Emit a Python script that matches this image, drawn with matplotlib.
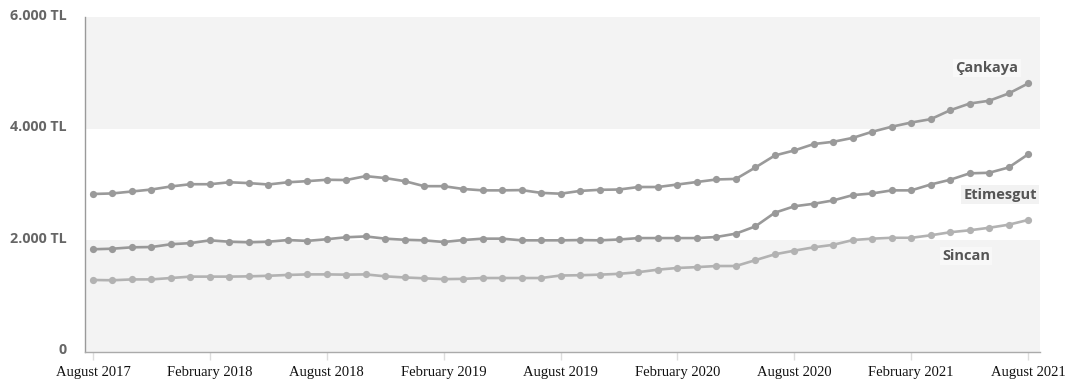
import matplotlib
matplotlib.use("Agg")
import matplotlib.pyplot as plt
from matplotlib.transforms import ScaledTranslation

# Monthly average rent (TL), August 2017 - August 2021
months = [
    "Aug 2017", "Sep 2017", "Oct 2017", "Nov 2017", "Dec 2017", "Jan 2018",
    "Feb 2018", "Mar 2018", "Apr 2018", "May 2018", "Jun 2018", "Jul 2018",
    "Aug 2018", "Sep 2018", "Oct 2018", "Nov 2018", "Dec 2018", "Jan 2019",
    "Feb 2019", "Mar 2019", "Apr 2019", "May 2019", "Jun 2019", "Jul 2019",
    "Aug 2019", "Sep 2019", "Oct 2019", "Nov 2019", "Dec 2019", "Jan 2020",
    "Feb 2020", "Mar 2020", "Apr 2020", "May 2020", "Jun 2020", "Jul 2020",
    "Aug 2020", "Sep 2020", "Oct 2020", "Nov 2020", "Dec 2020", "Jan 2021",
    "Feb 2021", "Mar 2021", "Apr 2021", "May 2021", "Jun 2021", "Jul 2021",
    "Aug 2021",
]

cankaya = [
    2830, 2840, 2875, 2910, 2965, 3005, 3005, 3040, 3025, 3000, 3040, 3060,
    3085, 3080, 3150, 3115, 3060, 2970, 2970, 2920, 2895, 2895, 2900, 2850,
    2835, 2885, 2905, 2910, 2955, 2955, 3000, 3045, 3090, 3100, 3305, 3520,
    3610, 3725, 3765, 3835, 3945, 4035, 4110, 4170, 4330, 4450, 4500, 4630,
    4810,
]

etimesgut = [
    1840, 1850, 1875, 1880, 1930, 1950, 2000, 1975, 1965, 1975, 2005, 1990,
    2020, 2055, 2070, 2030, 2010, 2000, 1970, 2005, 2030, 2030, 2000, 2000,
    2000, 2005, 2000, 2015, 2040, 2040, 2040, 2040, 2060, 2120, 2250, 2495,
    2610, 2655, 2715, 2810, 2840, 2895, 2895, 3000, 3085, 3200, 3210, 3305,
    3540,
]

sincan = [
    1290, 1285, 1300, 1300, 1325, 1350, 1350, 1350, 1355, 1365, 1380, 1390,
    1390, 1385, 1390, 1355, 1335, 1320, 1305, 1310, 1325, 1325, 1325, 1325,
    1370, 1375, 1385, 1400, 1430, 1475, 1505, 1520, 1540, 1540, 1645, 1750,
    1815, 1875, 1920, 2005, 2030, 2045, 2045, 2090, 2145, 2180, 2225, 2280,
    2365,
]

series_names = ["Çankaya", "Etimesgut", "Sincan"]
y_ticks = [0, 2000, 4000, 6000]
y_tick_labels = ["0", "2.000 TL", "4.000 TL", "6.000 TL"]
x_tick_labels = [
    "August 2017", "February 2018", "August 2018", "February 2019",
    "August 2019", "February 2020", "August 2020", "February 2021",
    "August 2021",
]

x = list(range(len(months)))

fig = plt.figure(figsize=(10.68, 3.85), dpi=100)
ax = fig.add_axes([85 / 1068, 33 / 385, (1040 - 85) / 1068, (368 - 33) / 385])

ax.set_xlim(-0.41, 48.61)
ax.set_ylim(0, 6000)

# Alternating horizontal bands
band_color = "#f3f3f3"
ax.axhspan(0, 2000, color=band_color, zorder=0, lw=0)
ax.axhspan(4000, 6000, color=band_color, zorder=0, lw=0)

line_styles = [
    (cankaya, "#9a9a9a"),
    (etimesgut, "#999999"),
    (sincan, "#b2b2b2"),
]
for values, color in line_styles:
    ax.plot(x, values, color=color, lw=1.9, marker="o", markersize=5.2,
            markeredgewidth=0, zorder=3, solid_capstyle="round")

# Series name labels at the right end
label_font = dict(family="Open Sans", weight="bold", size=10.5, color="#555555")
label_y = [5085, 2820, 1725]
label_x = [47.5, 48.45, 46.05]
label_bg = ["#f8f8f8", "#f2f2f2", "#f8f8f8"]
for name, yv, xv, bg in zip(series_names, label_y, label_x, label_bg):
    ax.text(xv, yv, name, ha="right", va="center", zorder=4,
            bbox=dict(boxstyle="square,pad=0.15", fc=bg, ec="none"),
            **label_font)

# Axes styling
for side in ("top", "right"):
    ax.spines[side].set_visible(False)
ax.spines["left"].set_color("#9a9a9a")
ax.spines["left"].set_linewidth(1.0)
ax.spines["bottom"].set_color("#aaaaaa")
ax.spines["bottom"].set_linewidth(1.0)

ax.set_yticks(y_ticks)
ax.set_yticklabels(y_tick_labels, family="Open Sans", weight="bold",
                   size=10.3, color="#666666")
ax.tick_params(axis="y", length=0, pad=13)
for lbl in ax.get_yticklabels():
    lbl.set_transform(lbl.get_transform() + ScaledTranslation(0, 3 / 100, fig.dpi_scale_trans))

ax.set_xticks(x[::6])
ax.set_xticklabels(x_tick_labels, family="Liberation Serif", size=10.5,
                   color="#111111")
ax.tick_params(axis="x", length=6, width=1, color="#dddddd", pad=4)

fig.savefig("out.png", dpi=100)
